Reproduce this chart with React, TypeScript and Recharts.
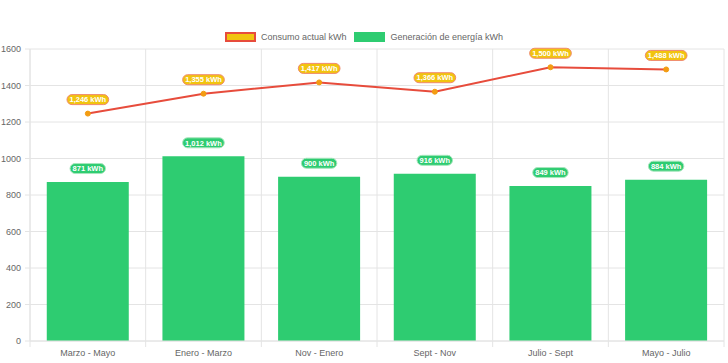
import { ComposedChart, Bar, Line, XAxis, YAxis, CartesianGrid, Legend, LabelList } from 'recharts'

const categories = ['Marzo - Mayo', 'Enero - Marzo', 'Nov - Enero', 'Sept - Nov', 'Julio - Sept', 'Mayo - Julio']
const consumo = [1246, 1355, 1417, 1366, 1500, 1488]
const generacion = [871, 1012, 900, 916, 849, 884]
const yTicks = [0, 200, 400, 600, 800, 1000, 1200, 1400, 1600]

const data = categories.map((name, i) => ({ name, consumo: consumo[i], generacion: generacion[i] }))

const W = 728
const H = 363
const LEFT = 30
const RIGHT = 4
const PLOT_W = W - LEFT - RIGHT
const BAND = PLOT_W / categories.length
const GRID = '#e4e4e4'
const FONT = '"Liberation Sans", Arial, Helvetica, sans-serif'

const widths = { ',': 0.278, ' ': 0.278, k: 0.556, W: 0.944, h: 0.611 }
const textWidth = (s, size) =>
  s.split('').reduce((sum, c) => sum + (widths[c] ?? 0.556), 0) * size

const fmt = (v) => `${Number(v).toLocaleString('en-US')} kWh`

const Pill = ({ cx, cy, text, fill, stroke }) => {
  const w = textWidth(text, 7.5) + 5
  return (
    <g>
      <rect x={cx - w / 2} y={cy - 5} width={w} height={10} rx={5} fill={fill} stroke={stroke} strokeWidth={1} />
      <text x={cx} y={cy + 2.7} textAnchor="middle" fill="#fff" fontSize={7.5} fontWeight="bold" fontFamily={FONT}>
        {text}
      </text>
    </g>
  )
}

const BarLabel = (props) => {
  const { x, y, width, value } = props
  return <Pill cx={x + width / 2} cy={y - 13.5} text={fmt(value)} fill="#2ecc71" stroke="#a8e6bd" />
}

const LineLabel = (props) => {
  const { x, y, value } = props
  return <Pill cx={x} cy={y - 14} text={fmt(value)} fill="#f1c40f" stroke="#f08a6e" />
}

const XTick = (props) => {
  const { x, y, payload, index } = props
  const left = x - BAND / 2
  return (
    <g>
      <line x1={left} x2={left} y1={y - 9} y2={y - 3} stroke={GRID} />
      {index === categories.length - 1 && (
        <line x1={left + BAND} x2={left + BAND} y1={y - 9} y2={y - 3} stroke={GRID} />
      )}
      <text x={x} y={y} dy="0.71em" textAnchor="middle" fill="#666" fontSize={9} fontFamily={FONT}>
        {payload.value}
      </text>
    </g>
  )
}

const legendItems = [
  { label: 'Consumo actual kWh', fill: '#f1c40f', border: '#e74c3c' },
  { label: 'Generación de energía kWh', fill: '#2ecc71', border: '#2ecc71' },
]

const LegendContent = () => (
  <div style={{ display: 'flex', justifyContent: 'center', alignItems: 'center', fontFamily: FONT, fontSize: 9, color: '#666' }}>
    {legendItems.map((it) => (
      <div key={it.label} style={{ display: 'flex', alignItems: 'center', margin: '0 4px' }}>
        <span
          style={{
            display: 'inline-block',
            width: 27,
            height: 6,
            background: it.fill,
            border: `2px solid ${it.border}`,
            marginRight: 5,
          }}
        />
        <span>{it.label}</span>
      </div>
    ))}
  </div>
)

export default function App() {
  return (
    <div style={{ position: 'absolute', left: 0, top: 0, fontFamily: FONT }}>
      <ComposedChart
        width={W}
        height={H}
        data={data}
        margin={{ top: 49, right: RIGHT, bottom: 0, left: 0 }}
        barCategoryGap="14.5%"
      >
        <CartesianGrid
          stroke={GRID}
          verticalCoordinatesGenerator={({ offset }) =>
            categories.map((_, i) => offset.left + (offset.width / categories.length) * i).concat(offset.left + offset.width)
          }
        />
        <XAxis
          dataKey="name"
          height={22}
          tickLine={false}
          tickSize={6}
          tickMargin={3}
          axisLine={{ stroke: GRID }}
          tick={<XTick />}
          interval={0}
        />
        <YAxis
          width={LEFT}
          domain={[0, 1600]}
          ticks={yTicks}
          tickSize={5}
          tickMargin={4}
          axisLine={{ stroke: GRID }}
          tickLine={{ stroke: GRID }}
          tick={{ fill: '#666', fontSize: 9, fontFamily: FONT }}
        />
        <Legend
          verticalAlign="middle"
          align="center"
          layout="horizontal"
          wrapperStyle={{ top: 32, left: 0, width: W }}
          content={<LegendContent />}
        />
        <Bar dataKey="generacion" fill="#2ecc71" isAnimationActive={false}>
          <LabelList dataKey="generacion" content={<BarLabel />} />
        </Bar>
        <Line
          dataKey="consumo"
          type="linear"
          stroke="#e74c3c"
          strokeWidth={2}
          dot={{ r: 2.5, fill: '#f39c12', stroke: '#f39c12', strokeWidth: 1 }}
          activeDot={false}
          isAnimationActive={false}
        >
          <LabelList dataKey="consumo" content={<LineLabel />} />
        </Line>
      </ComposedChart>
    </div>
  )
}
